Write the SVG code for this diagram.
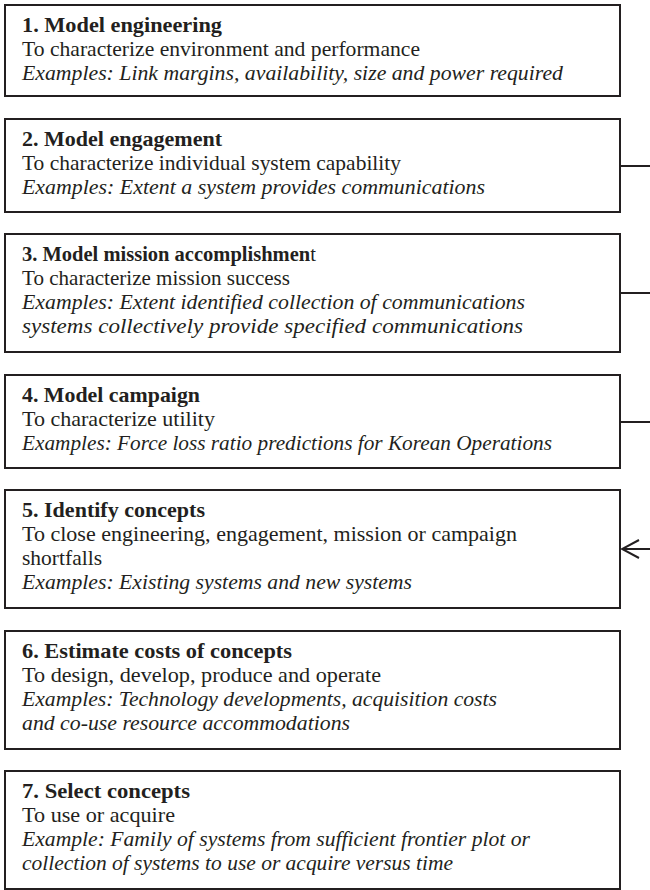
<svg xmlns="http://www.w3.org/2000/svg" width="650" height="890" viewBox="0 0 650 890">
  <style>
    .box { fill: #ffffff; stroke: #231f20; stroke-width: 2; }
    .link { fill: none; stroke: #231f20; stroke-width: 2; }
    text { font-family: "Liberation Serif", "DejaVu Serif", serif; font-size: 21px; fill: #231f20; }
    .title { font-weight: bold; }
    .ex { font-style: italic; }
  </style>
  <defs>
    <marker id="open-arrow" viewBox="0 0 20 20" refX="19" refY="10" markerWidth="20" markerHeight="20" markerUnits="userSpaceOnUse" orient="auto">
      <path d="M2,1 L19,10 L2,19" fill="none" stroke="#231f20" stroke-width="2"/>
    </marker>
  </defs>
  <rect width="650" height="890" fill="#ffffff"/>

  <g id="step1">
    <rect class="box" x="5" y="5" width="615" height="91"/>
    <text x="22" y="32" class="title" textLength="200" lengthAdjust="spacingAndGlyphs">1. Model engineering</text>
    <text x="22" y="56" textLength="398" lengthAdjust="spacingAndGlyphs">To characterize environment and performance</text>
    <text x="22" y="80" class="ex" textLength="541" lengthAdjust="spacingAndGlyphs">Examples: Link margins, availability, size and power required</text>
  </g>

  <g id="step2">
    <rect class="box" x="5" y="119" width="615" height="93"/>
    <text x="22" y="146" class="title" textLength="200" lengthAdjust="spacingAndGlyphs">2. Model engagement</text>
    <text x="22" y="170" textLength="379" lengthAdjust="spacingAndGlyphs">To characterize individual system capability</text>
    <text x="22" y="194" class="ex" textLength="463" lengthAdjust="spacingAndGlyphs">Examples: Extent a system provides communications</text>
  </g>

  <g id="step3">
    <rect class="box" x="5" y="234" width="615" height="118"/>
    <!-- only the final letter of the heading is set in the regular weight -->
    <text x="22" y="261" style="font-size:20.5px"><tspan class="title">3. Model mission accomplishmen</tspan>t</text>
    <text x="22" y="285" textLength="268" lengthAdjust="spacingAndGlyphs">To characterize mission success</text>
    <text x="22" y="309" class="ex" textLength="503" lengthAdjust="spacingAndGlyphs">Examples: Extent identified collection of communications</text>
    <text x="22" y="333" class="ex" textLength="501" lengthAdjust="spacingAndGlyphs">systems collectively provide specified communications</text>
  </g>

  <g id="step4">
    <rect class="box" x="5" y="375" width="615" height="93"/>
    <text x="22" y="402" class="title" textLength="178" lengthAdjust="spacingAndGlyphs">4. Model campaign</text>
    <text x="22" y="426" textLength="193" lengthAdjust="spacingAndGlyphs">To characterize utility</text>
    <text x="22" y="450" class="ex" textLength="530" lengthAdjust="spacingAndGlyphs">Examples: Force loss ratio predictions for Korean Operations</text>
  </g>

  <g id="step5">
    <rect class="box" x="5" y="490" width="615" height="118"/>
    <text x="22" y="517" class="title" textLength="183" lengthAdjust="spacingAndGlyphs">5. Identify concepts</text>
    <text x="22" y="541" textLength="495" lengthAdjust="spacingAndGlyphs">To close engineering, engagement, mission or campaign</text>
    <text x="22" y="565" textLength="80" lengthAdjust="spacingAndGlyphs">shortfalls</text>
    <text x="22" y="589" class="ex" textLength="390" lengthAdjust="spacingAndGlyphs">Examples: Existing systems and new systems</text>
  </g>

  <g id="step6">
    <rect class="box" x="5" y="631" width="615" height="118"/>
    <text x="22" y="658" class="title" textLength="270" lengthAdjust="spacingAndGlyphs">6. Estimate costs of concepts</text>
    <text x="22" y="682" textLength="359" lengthAdjust="spacingAndGlyphs">To design, develop, produce and operate</text>
    <text x="22" y="706" class="ex" textLength="475" lengthAdjust="spacingAndGlyphs">Examples: Technology developments, acquisition costs</text>
    <text x="22" y="730" class="ex" textLength="328" lengthAdjust="spacingAndGlyphs">and co-use resource accommodations</text>
  </g>

  <g id="step7">
    <rect class="box" x="5" y="771" width="615" height="118"/>
    <text x="22" y="798" class="title" textLength="168" lengthAdjust="spacingAndGlyphs">7. Select concepts</text>
    <text x="22" y="822" textLength="153" lengthAdjust="spacingAndGlyphs">To use or acquire</text>
    <text x="22" y="846" class="ex" textLength="508" lengthAdjust="spacingAndGlyphs">Example: Family of systems from sufficient frontier plot or</text>
    <text x="22" y="870" class="ex" textLength="431" lengthAdjust="spacingAndGlyphs">collection of systems to use or acquire versus time</text>
  </g>

  <g id="connectors">
    <line class="link" x1="621" y1="166" x2="650" y2="166"/>
    <line class="link" x1="621" y1="293" x2="650" y2="293"/>
    <line class="link" x1="621" y1="422" x2="650" y2="422"/>
    <line class="link" x1="650" y1="549" x2="622" y2="549" marker-end="url(#open-arrow)"/>
  </g>
</svg>
